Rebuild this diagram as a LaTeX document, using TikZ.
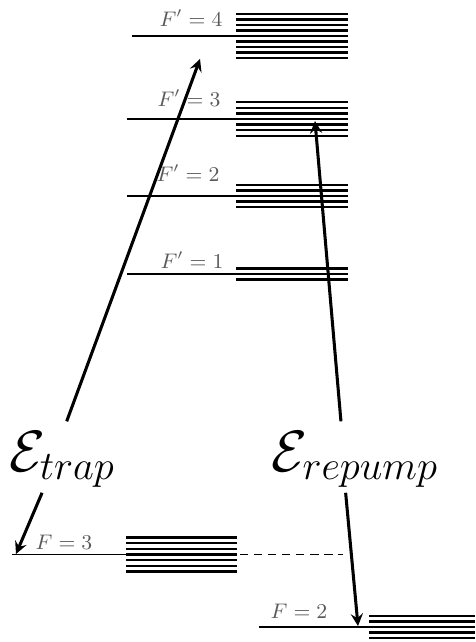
\documentclass[tikz,border=0pt]{standalone}
\usepackage{amsmath}
\usepackage{amssymb}
\usetikzlibrary{positioning,calc}

\begin{document}
\begin{tikzpicture}[
    x=0.15mm, y=-0.15mm,
    >=stealth,
    level/.style={line width=0.8pt},
    sublevel/.style={line width=1.1pt},
    beam/.style={->, line width=1.3pt},
    lvllabel/.style={font=\small, text=black!65, inner sep=1pt},
    field/.style={font=\fontsize{23.5}{28}\selectfont, inner sep=2pt},
]
\useasboundingbox (0,0) rectangle (475,642);

% --- excited manifold F' = 4 ... 1 ---
\draw[level] (132,36) -- (348,36);
\foreach \k in {-4,...,4}
    \draw[sublevel] (236,36+5.5*\k) -- (348,36+5.5*\k);
\node[lvllabel] (l4) at (191,18) {$F'=4$};

\draw[level] (127,119) -- (348,119);
\foreach \k in {-3,...,3}
    \draw[sublevel] (236,119+5.6*\k) -- (348,119+5.6*\k);
\node[lvllabel] (l3) at (189,98) {$F'=3$};

\draw[level] (127,196) -- (348,196);
\foreach \k in {-2,...,2}
    \draw[sublevel] (236,196+5.6*\k) -- (348,196+5.6*\k);
\node[lvllabel] (l2) at (188,173) {$F'=2$};

\draw[level] (127,274) -- (348,274);
\foreach \k in {-1,...,1}
    \draw[sublevel] (236,274+5.6*\k) -- (348,274+5.6*\k);
\node[lvllabel] (l1) at (192,260) {$F'=1$};

% --- ground manifold F = 3, F = 2 ---
\draw[level] (12,554.5) -- (237,554.5);
\foreach \k in {-3,...,3}
    \draw[sublevel] (126,554.5+5.7*\k) -- (237,554.5+5.7*\k);
\draw[level, dash pattern=on 3.5pt off 2.5pt] (240,554.5) -- (343,554.5);
\node[lvllabel] (g3) at (64,542) {$F=3$};

\draw[level] (259,627) -- (475,627);
\foreach \k in {-2,...,2}
    \draw[sublevel] (369,627+5.6*\k) -- (475,627+5.6*\k);
\node[lvllabel] (g2) at (299,611) {$F=2$};

% --- laser fields ---
\node[field, anchor=base] (trap) at (62,471) {$\mathcal{E}_{trap}$};
\node[field, anchor=base] (rep)  at (355,471) {$\mathcal{E}_{repump}$};

\coordinate (up4) at (200,59);
\coordinate (dn3) at (16,554);
\coordinate (up3) at (315,121);
\coordinate (dn2) at (358,626);

\draw[beam] ([xshift=2pt,yshift=2pt]trap.north) -- (up4);
\draw[beam] ([xshift=-8.5pt]trap.south) -- (dn3);
\draw[beam] ([xshift=-6pt,yshift=2pt]rep.north) -- (up3);
\draw[beam] ([xshift=-4pt]rep.south) -- (dn2);

\end{tikzpicture}
\end{document}
